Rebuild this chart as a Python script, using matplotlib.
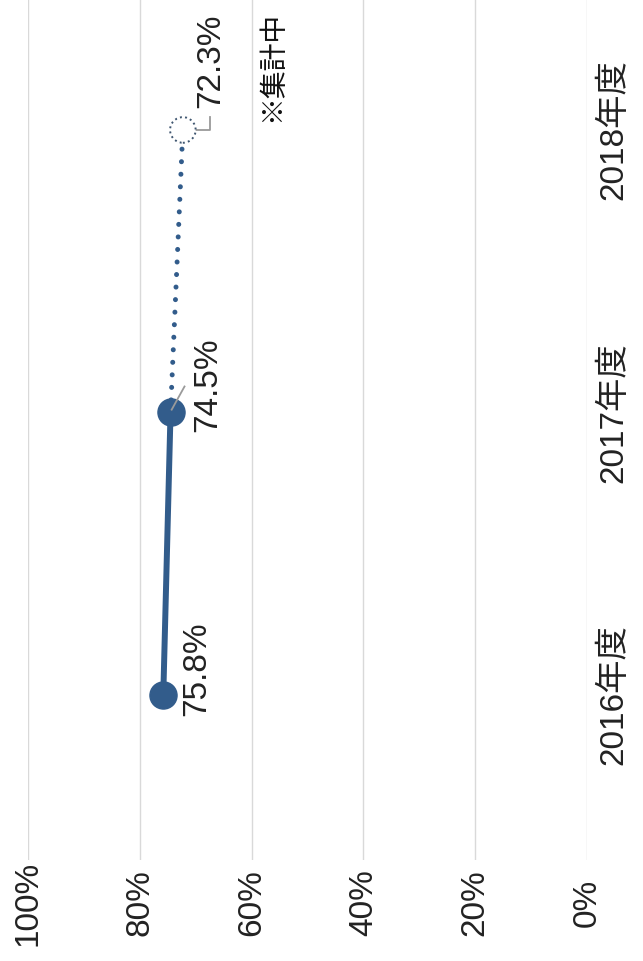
import matplotlib
matplotlib.use("Agg")
import matplotlib.pyplot as plt

plt.rcParams['font.family'] = ['Liberation Sans', 'Noto Sans CJK JP', 'DejaVu Sans']

# データ
years = ['2016年度', '2017年度', '2018年度']
rates = [75.8, 74.5, 72.3]
labels = ['75.8%', '74.5%', '72.3%']
pct_ticks = [100, 80, 60, 40, 20, 0]
pct_labels = ['100%', '80%', '60%', '40%', '20%', '0%']

color = '#325c8b'
txt = '#222222'

fig = plt.figure(figsize=(6.43, 9.61), dpi=100)
ax = fig.add_axes([28 / 643, 101 / 961, 559 / 643, 860 / 961])

pos = [0, 1, 2]

# 実線 (2016-2017) と点線 (2017-2018, 集計中)
ax.plot(rates[:2], pos[:2], color=color, lw=4.3, solid_capstyle='round', zorder=3)
ax.plot(rates[1:], pos[1:], color=color, lw=3.6, dashes=(0.01, 2.5),
        dash_capstyle='round', zorder=3)
ax.plot(rates[:2], pos[:2], 'o', color=color, ms=19.5, zorder=4)
ax.scatter([rates[2]], [pos[2]], s=340, facecolors='white', edgecolors='#3f5670',
           linestyles=':', linewidths=1.4, zorder=4)

# データラベル
ax.annotate(labels[0], (rates[0], pos[0]), xytext=(24, 19), textcoords='offset points',
            rotation=90, ha='center', va='center', fontsize=24, color=txt)
ax.annotate(labels[1], (rates[1], pos[1]), xytext=(27, 20), textcoords='offset points',
            rotation=90, ha='center', va='center', fontsize=24, color=txt)
ax.plot([rates[1] - 0.2, rates[1] - 2.5], [pos[1] + 0.01, pos[1] + 0.092],
        color='#9a9a9a', lw=1.3, zorder=5)
ax.annotate(labels[2], (rates[2], pos[2]), xytext=(20, 50), textcoords='offset points',
            rotation=90, ha='center', va='center', fontsize=24, color=txt)
ax.plot([rates[2] - 2.0, rates[2] - 4.8, rates[2] - 4.8],
        [pos[2], pos[2], pos[2] + 0.045], color='#9a9a9a', lw=1.3, zorder=3)
ax.annotate('※集計中', (rates[2], pos[2]), xytext=(65, 46), textcoords='offset points',
            rotation=90, ha='center', va='center', fontsize=20, color='#111111')

# 軸
ax.set_xlim(100, 0)
ax.set_ylim(-0.584, 2.46)
ax.set_xticks(pct_ticks)
ax.set_xticklabels(pct_labels, rotation=90, va='center', ha='center', fontsize=24,
                   color=txt)
ax.tick_params(axis='x', length=0, pad=31)
ax.set_yticks(pos)
ax.set_yticklabels(years, rotation=90, va='center', ha='center', fontsize=24,
                   color=txt)
ax.yaxis.tick_right()
ax.tick_params(axis='y', length=0, pad=19)

ax.grid(axis='x', color='#d9d9d9', lw=1.0)
ax.set_axisbelow(True)
for s in ax.spines.values():
    s.set_visible(False)

fig.savefig('out.png', dpi=100)
